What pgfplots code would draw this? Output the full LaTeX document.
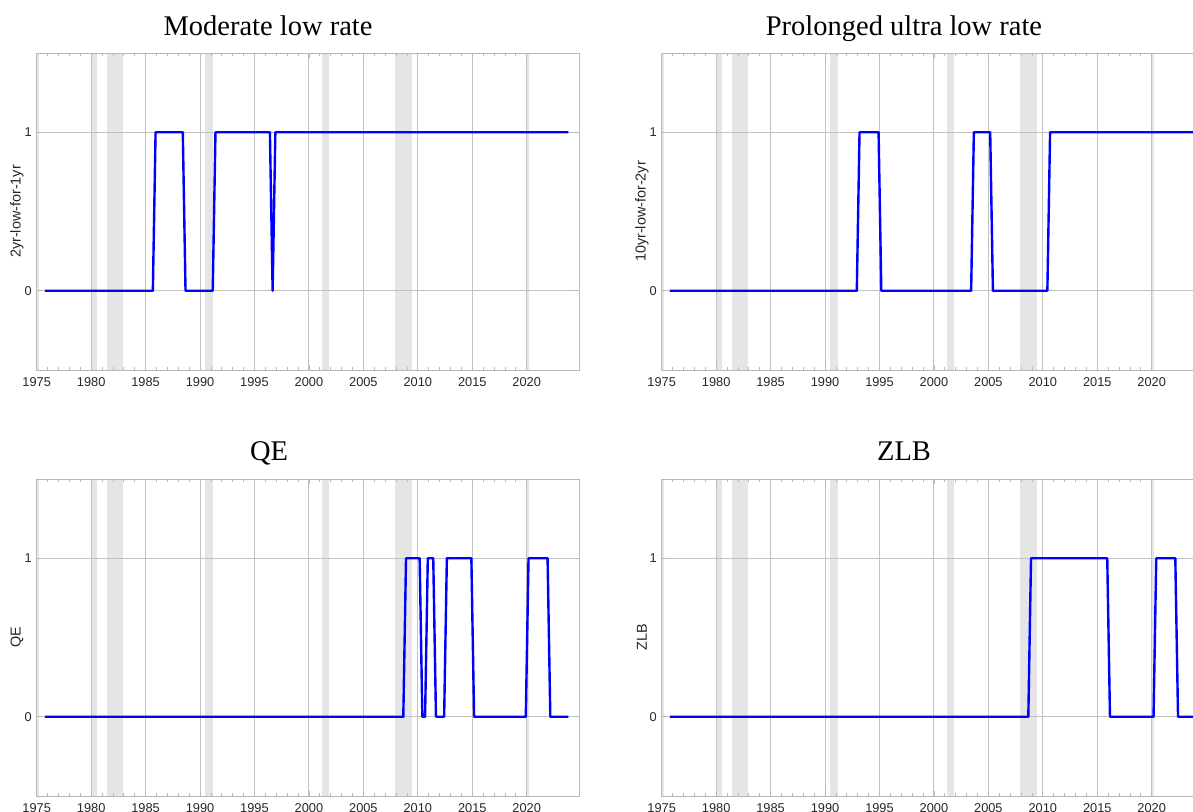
\documentclass[border=0pt]{standalone}
\usepackage{fontspec}
\setmainfont{Liberation Serif}
\newfontfamily\sansf{Liberation Sans}
\usepackage{pgfplots}
\pgfplotsset{compat=1.18}
\definecolor{rec}{gray}{0.9}
\definecolor{gridc}{gray}{0.76}
\definecolor{framec}{gray}{0.72}
\pgfplotsset{
 panel/.style={
  scale only axis, width=271.3pt, height=158.5pt,
  xmin=1975, xmax=2024.83, ymin=-0.5, ymax=1.5,
  xtick={1975,1980,...,2020}, ytick={0,1},
  minor x tick num=4,
  xmajorgrids, ymajorgrids,
  set layers,
  major grid style={gridc, line width=0.5pt},
  axis line style={framec, line width=0.5pt},
  tick style={framec, line width=0.4pt},
  major tick length=2.5pt, minor tick length=1.5pt,
  tick align=inside,
  /pgf/number format/assume math mode=true,
  /pgf/number format/1000 sep={},
  ticklabel style={font=\sansf\fontsize{6.4}{7}\selectfont, text=black!85},
  xticklabel style={inner sep=0pt, anchor=north, yshift=-3.6pt},
  yticklabel style={inner sep=0pt, anchor=east, xshift=-2.3pt},
  ylabel style={font=\sansf\fontsize{7.2}{8}\selectfont, text=black!85, at={(axis description cs:-0.0363,0.5)}, anchor=center},
 },
 recfill/.style={fill=rec, draw=none, on layer=axis background},
 sig/.style={blue, line width=1.2pt, line join=round, mark=none},
}
\newcommand\recessions{%
 \addplot[recfill] coordinates {(1975,-0.5)(1975.17,-0.5)(1975.17,1.5)(1975,1.5)} -- cycle;
 \addplot[recfill] coordinates {(1980.0,-0.5)(1980.5,-0.5)(1980.5,1.5)(1980.0,1.5)} -- cycle;
 \addplot[recfill] coordinates {(1981.5,-0.5)(1982.92,-0.5)(1982.92,1.5)(1981.5,1.5)} -- cycle;
 \addplot[recfill] coordinates {(1990.5,-0.5)(1991.17,-0.5)(1991.17,1.5)(1990.5,1.5)} -- cycle;
 \addplot[recfill] coordinates {(2001.17,-0.5)(2001.87,-0.5)(2001.87,1.5)(2001.17,1.5)} -- cycle;
 \addplot[recfill] coordinates {(2007.9,-0.5)(2009.42,-0.5)(2009.42,1.5)(2007.9,1.5)} -- cycle;
 \addplot[recfill] coordinates {(2019.95,-0.5)(2020.25,-0.5)(2020.25,1.5)(2019.95,1.5)} -- cycle;
}
\begin{document}
\begin{tikzpicture}
\begin{axis}[panel, at={(18.35pt,220.5pt)}, anchor=south west, ylabel={2yr-low-for-1yr}]
\recessions
\addplot[sig] coordinates {
(1975.75,0) (1985.667,0) (1985.917,1) (1988.417,1) (1988.667,0) (1991.167,0) (1991.417,1)
(1996.417,1) (1996.667,0) (1996.917,1) (2023.833,1)};
\end{axis}
\begin{axis}[panel, at={(330.85pt,220.5pt)}, anchor=south west, ylabel={10yr-low-for-2yr}]
\recessions
\addplot[sig] coordinates {
(1975.75,0) (1992.917,0) (1993.167,1) (1994.917,1) (1995.167,0) (2003.417,0) (2003.667,1)
(2005.167,1) (2005.417,0) (2010.417,0) (2010.667,1) (2023.833,1)};
\end{axis}
\begin{axis}[panel, at={(18.35pt,7.5pt)}, anchor=south west, ylabel={QE}]
\recessions
\addplot[sig] coordinates {
(1975.75,0) (2008.667,0) (2008.917,1) (2010.167,1) (2010.417,0) (2010.667,0) (2010.917,1)
(2011.417,1) (2011.667,0) (2012.417,0) (2012.667,1) (2014.917,1) (2015.167,0) (2019.917,0)
(2020.167,1) (2021.917,1) (2022.167,0) (2023.833,0)};
\end{axis}
\begin{axis}[panel, at={(330.85pt,7.5pt)}, anchor=south west, ylabel={ZLB}]
\recessions
\addplot[sig] coordinates {
(1975.75,0) (2008.667,0) (2008.917,1) (2015.917,1) (2016.167,0) (2020.167,0) (2020.417,1)
(2022.167,1) (2022.417,0) (2023.833,0)};
\end{axis}
\node[font=\fontsize{14.25}{16}\selectfont, anchor=base] at (134pt,388pt) {Moderate low rate};
\node[font=\fontsize{14.25}{16}\selectfont, anchor=base] at (452pt,388pt) {Prolonged ultra low rate};
\node[font=\fontsize{14.25}{16}\selectfont, anchor=base] at (134.5pt,175.35pt) {QE};
\node[font=\fontsize{14.25}{16}\selectfont, anchor=base] at (452pt,175.35pt) {ZLB};
\pgfresetboundingbox
\useasboundingbox (0,0) rectangle (596.5pt,405.5pt);
\end{tikzpicture}
\end{document}
